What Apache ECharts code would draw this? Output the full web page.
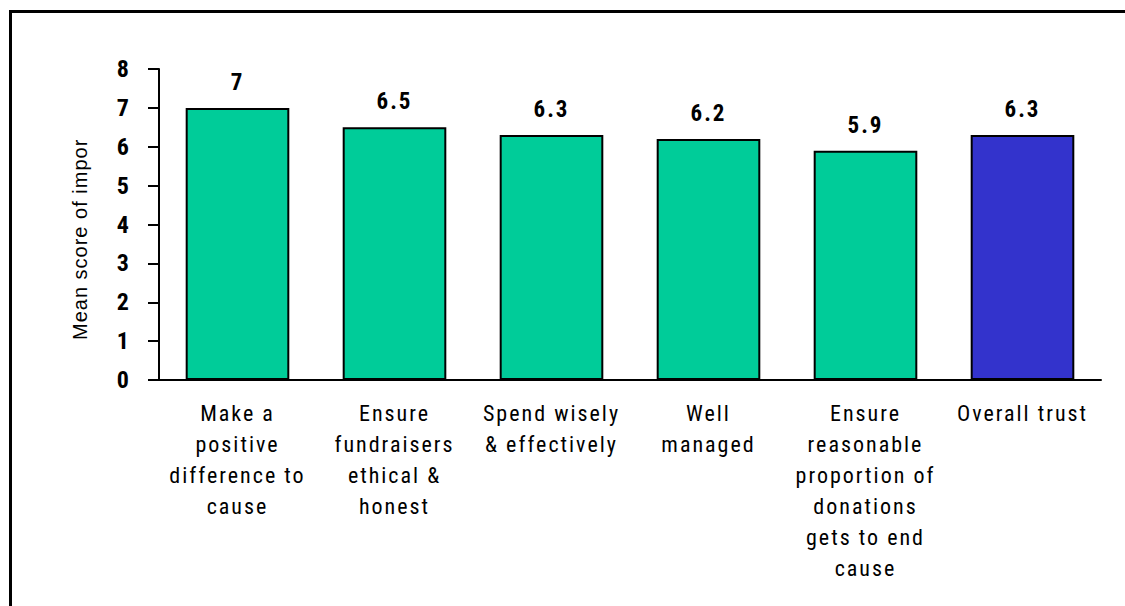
<!DOCTYPE html>
<html>
<head>
<meta charset="utf-8">
<script src="https://cdn.jsdelivr.net/npm/echarts@6/dist/echarts.min.js"></script>
<style>
  html, body { margin: 0; padding: 0; background: #fff; }
  #frame { position: absolute; left: 9px; top: 10px; right: 0; bottom: 0;
           border-left: 3px solid #000; border-top: 3px solid #000; }
  #chart { position: absolute; left: 0; top: 0; width: 1125px; height: 606px; }
  /* text in the original is spaced out a little */
  #chart text[style*="Roboto Condensed"] { letter-spacing: 2px; }
  #chart text[style*="Liberation Sans"] { letter-spacing: 1px; }
</style>
</head>
<body>
<div id="frame"></div>
<div id="chart"></div>
<script>
const categories = [
  'Make a\npositive\ndifference to\ncause',
  'Ensure\nfundraisers\nethical &\nhonest',
  'Spend wisely\n& effectively',
  'Well\nmanaged',
  'Ensure\nreasonable\nproportion of\ndonations\ngets to end\ncause',
  'Overall trust'
]
const scores = [7, 6.5, 6.3, 6.2, 5.9, 6.3]
const barColors = ['#00CC99', '#00CC99', '#00CC99', '#00CC99', '#00CC99', '#3333CC']
const yTitle = 'Mean score of importance'

const condFont = '"Roboto Condensed", sans-serif'

const myChart = echarts.init(document.getElementById('chart'), null, { renderer: 'svg' })

myChart.setOption({
  animation: false,
  grid: { left: 159, right: 24, top: 69, bottom: 226 },
  graphic: [
    {
      type: 'text',
      x: 80,
      y: 340,
      rotation: Math.PI / 2,
      style: {
        text: yTitle,
        width: 185,
        overflow: 'truncate',
        ellipsis: '',
        font: '20px "Liberation Sans", sans-serif',
        fill: '#000',
        align: 'left',
        verticalAlign: 'middle'
      }
    }
  ],
  xAxis: {
    type: 'category',
    data: categories,
    axisLine: { lineStyle: { color: '#000', width: 2 } },
    axisTick: { length: 7, lineStyle: { color: '#000', width: 2 } },
    axisLabel: {
      interval: 0,
      margin: 18,
      color: '#000',
      fontFamily: condFont,
      fontSize: 22,
      lineHeight: 31
    }
  },
  yAxis: {
    type: 'value',
    min: 0,
    max: 8,
    interval: 1,
    splitLine: { show: false },
    axisLine: { show: true, lineStyle: { color: '#000', width: 2 } },
    axisTick: { show: true, length: 11, lineStyle: { color: '#000', width: 2 } },
    axisLabel: {
      margin: 28,
      color: '#000',
      fontFamily: condFont,
      fontWeight: 'bold',
      fontSize: 24
    }
  },
  series: [
    {
      type: 'bar',
      data: scores.map((v, i) => ({ value: v, itemStyle: { color: barColors[i] } })),
      barCategoryGap: '34%',
      itemStyle: { borderColor: '#000', borderWidth: 2 },
      label: {
        show: true,
        position: 'top',
        distance: 14,
        color: '#000',
        fontFamily: condFont,
        fontWeight: 'bold',
        fontSize: 23
      }
    }
  ]
})
</script>
</body>
</html>
